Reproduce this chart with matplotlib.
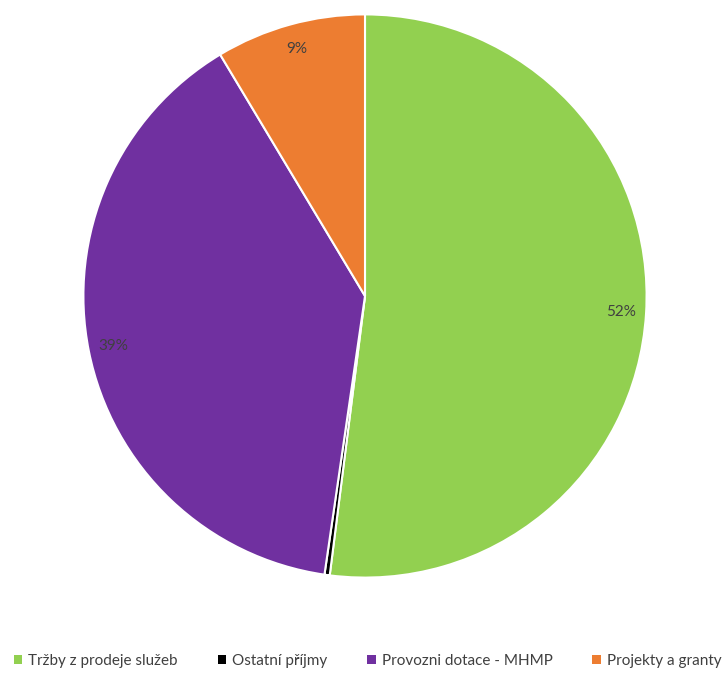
import matplotlib.pyplot as plt
from matplotlib.patches import Patch

plt.rcParams['font.family'] = ['Lato', 'DejaVu Sans']

labels = ['Tržby z prodeje služeb', 'Ostatní příjmy', 'Provozni dotace - MHMP', 'Projekty a granty']
values = [52.0, 0.3, 39.1, 8.6]
colors = ['#92d050', '#000000', '#7030a0', '#ed7d31']

fig = plt.figure(figsize=(7.28, 6.74), dpi=100)
ax = fig.add_axes([82/728, 95/674, 566/728, 566/674])

def pct(p):
    if p < 1:
        return ''
    return '%d%%' % round(p)

wedges, texts, autotexts = ax.pie(values, colors=colors, startangle=90, counterclock=False,
                                  autopct=pct, pctdistance=0.91,
                                  wedgeprops=dict(edgecolor='white', linewidth=1.5),
                                  textprops=dict(color='#404040', fontsize=11))
ax.set_xlim(-1.005, 1.005)
ax.set_ylim(-1.005, 1.005)
ax.set_aspect('equal')

handles = [Patch(facecolor=c, edgecolor='none') for c in colors]
fig.legend(handles, labels, loc='center', bbox_to_anchor=(0.505, 1 - 661/674), ncol=4,
           frameon=False, fontsize=11, handlelength=0.55, handleheight=0.55,
           handletextpad=0.4, columnspacing=2.6, labelcolor='#404040')

fig.savefig('out.png', dpi=100)
